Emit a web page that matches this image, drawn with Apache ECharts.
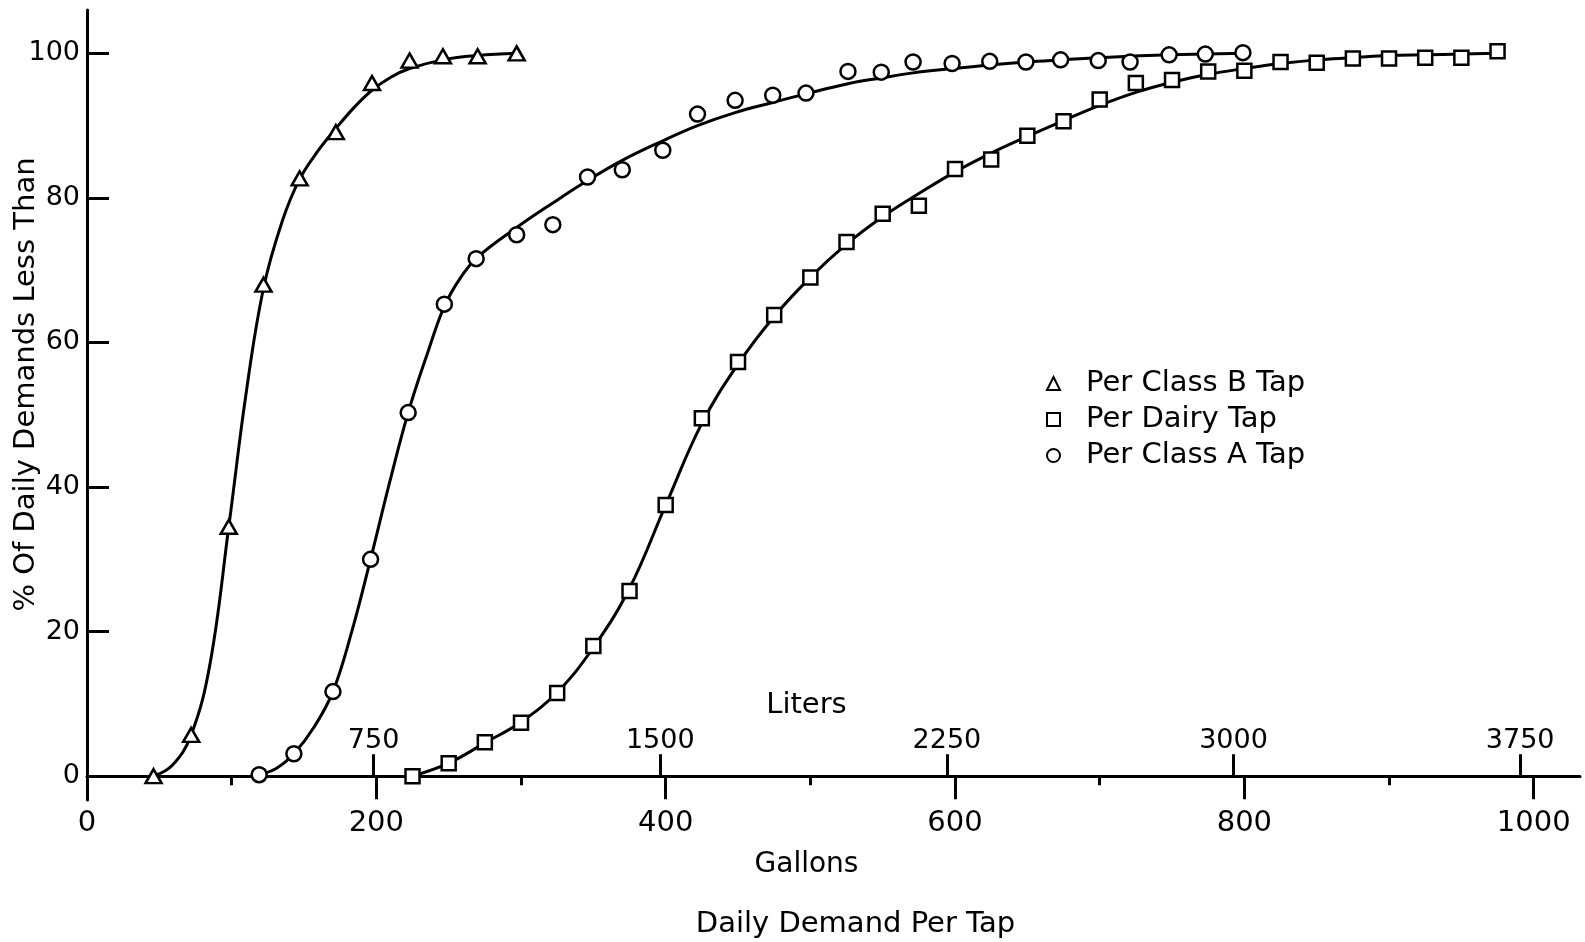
<!DOCTYPE html>
<html>
<head>
<meta charset="utf-8">
<script src="https://cdn.jsdelivr.net/npm/echarts@6/dist/echarts.min.js"></script>
<style>
html,body{margin:0;padding:0;background:#fff;}
#chart{width:1585px;height:942px;}
</style>
</head>
<body>
<div id="chart"></div>
<script>
// ---------- data ----------
const seriesNames = ['Per Class B Tap', 'Per Dairy Tap', 'Per Class A Tap'];

// Per Class B Tap (triangles)
const classBGallons = [46, 72, 98, 122, 147, 172, 197, 223, 246, 270, 297];
const classBPercent = [0, 5.7, 34.5, 68.0, 82.7, 89.1, 95.9, 99.0, 99.6, 99.6, 100];

// Per Dairy Tap (squares)
const dairyGallons = [225, 250, 275, 300, 325, 350, 375, 400, 425, 450, 475, 500, 525, 550, 575, 600,
                      625, 650, 675, 700, 725, 750, 775, 800, 825, 850, 875, 900, 925, 950, 975];
const dairyPercent = [0, 1.8, 4.7, 7.4, 11.5, 18.0, 25.6, 37.5, 49.5, 57.3, 63.8, 69.0, 73.9, 77.8, 78.9, 84.0,
                      85.3, 88.6, 90.6, 93.6, 95.9, 96.3, 97.5, 97.6, 98.8, 98.7, 99.3, 99.3, 99.4, 99.4, 100.3];

// Per Class A Tap (circles)
const classAGallons = [119, 143, 170, 196, 222, 247, 269, 297, 322, 346, 370, 398, 422, 448, 474, 497,
                       526, 549, 571, 598, 624, 649, 673, 699, 721, 748, 773, 799];
const classAPercent = [0.2, 3.1, 11.7, 30.0, 50.3, 65.3, 71.6, 74.9, 76.3, 82.9, 83.9, 86.6, 91.6, 93.5, 94.2, 94.5,
                       97.5, 97.4, 98.8, 98.6, 98.9, 98.8, 99.1, 99.0, 98.8, 99.8, 99.9, 100.1];

// hand-fitted curves
const classBCurveGallons = [46, 59, 72, 85, 98, 110, 122, 135, 147, 160, 172, 185, 197, 210, 223, 246, 270, 297];
const classBCurvePercent = [0, 1.5, 5.7, 15.5, 34.5, 53.0, 67.5, 76.8, 82.6, 86.6, 89.6, 92.6, 94.9, 96.7, 97.9, 99.1, 99.7, 100];

const dairyCurveGallons = [225, 250, 275, 300, 325, 350, 375, 400, 425, 450, 475, 500, 525, 550, 575, 600,
                           625, 650, 675, 700, 725, 750, 775, 800, 825, 850, 875, 900, 925, 950, 975];
const dairyCurvePercent = [0, 1.8, 4.6, 7.5, 11.6, 17.8, 26.0, 37.5, 48.8, 57.0, 63.6, 69.0, 73.6, 77.4, 80.6, 83.6,
                           86.2, 88.5, 90.7, 92.8, 94.6, 96.0, 97.1, 97.9, 98.6, 99.1, 99.4, 99.7, 99.8, 99.9, 100];

const classACurveGallons = [119, 131, 143, 157, 170, 183, 196, 209, 222, 236, 247, 258, 270, 297, 322, 346, 370, 398,
                            422, 448, 474, 497, 526, 549, 571, 599, 624, 649, 673, 699, 721, 748, 800];
const classACurvePercent = [0.2, 1.1, 3.1, 6.8, 11.7, 20.0, 30.0, 40.5, 50.3, 58.9, 65.0, 68.9, 71.8, 75.9, 79.3, 82.4, 85.2, 87.9,
                            90.0, 91.8, 93.2, 94.4, 95.8, 96.6, 97.3, 97.9, 98.4, 98.8, 99.1, 99.4, 99.6, 99.8, 100];

// axes / ticks
const gallonMax = 1032;
const litersPerGallon = 3.7854;
const gallonLabelValues = [0, 200, 400, 600, 800, 1000];
const gallonMajorTicks = [200, 400, 600, 800, 1000];
const gallonMinorTicks = [100, 300, 500, 700, 900];
const literTicks = [750, 1500, 2250, 3000, 3750];
const percentTicks = [0, 20, 40, 60, 80, 100];
const percentMin = -3.3;
const percentMax = 106;

// ---------- chart ----------
const FONT = 'DejaVu Sans';
const BLACK = '#000';
const zip = (xs, ys) => xs.map((x, i) => [x, ys[i]]);
const plain = v => String(v);

const chart = echarts.init(document.getElementById('chart'), null, {renderer: 'canvas'});

const markerStyle = {color: '#fff', borderColor: BLACK, borderWidth: 2.5, opacity: 1};
const curveStyle = {color: BLACK, width: 3};

const option = {
  animation: false,
  backgroundColor: '#fff',
  grid: {left: 87, right: 5, top: 10, bottom: 142, containLabel: false, outerBoundsMode: 'none'},
  legend: {
    data: seriesNames,
    orient: 'vertical',
    left: 1041,
    top: 364,
    itemWidth: 13,
    itemHeight: 13,
    itemGap: 7,
    selectedMode: false,
    textStyle: {fontFamily: FONT, fontSize: 29, color: BLACK, padding: [0, 0, 0, 21]}
  },
  xAxis: [
    {
      type: 'value', min: 0, max: gallonMax, position: 'bottom',
      axisLine: {show: true, onZero: true, onZeroAxisIndex: 0, lineStyle: {color: BLACK, width: 3}},
      axisTick: {show: true, customValues: gallonMajorTicks, length: 23, lineStyle: {color: BLACK, width: 3}},
      axisLabel: {customValues: gallonLabelValues, formatter: plain, margin: 9, verticalAlign: 'top',
                  fontFamily: FONT, fontSize: 29, color: BLACK},
      splitLine: {show: false},
      name: 'Gallons', nameLocation: 'middle', nameGap: 51, nameMoveOverlap: false,
      nameTextStyle: {fontFamily: FONT, fontSize: 28, color: BLACK, padding: [0, 54, 0, 0]}
    },
    {
      type: 'value', min: 0, max: gallonMax * litersPerGallon, position: 'bottom',
      axisLine: {show: false, onZero: true, onZeroAxisIndex: 0},
      axisTick: {show: true, inside: true, customValues: literTicks, length: 22, lineStyle: {color: BLACK, width: 3}},
      axisLabel: {inside: true, customValues: literTicks, formatter: plain, margin: 46, verticalAlign: 'bottom',
                  fontFamily: FONT, fontSize: 27, color: BLACK},
      splitLine: {show: false},
      name: 'Liters', nameLocation: 'middle', nameGap: -109, nameMoveOverlap: false,
      nameTextStyle: {fontFamily: FONT, fontSize: 29, color: BLACK, padding: [0, 54, 0, 0]}
    },
    {
      type: 'value', min: 0, max: gallonMax, position: 'bottom',
      axisLine: {show: false, onZero: true, onZeroAxisIndex: 0},
      axisTick: {show: true, customValues: gallonMinorTicks, length: 9, lineStyle: {color: BLACK, width: 3}},
      axisLabel: {show: false},
      splitLine: {show: false},
      name: 'Daily Demand Per Tap', nameLocation: 'middle', nameGap: 110, nameMoveOverlap: false,
      nameTextStyle: {fontFamily: FONT, fontSize: 29, color: BLACK, padding: [0, 0, 0, 44]}
    }
  ],
  yAxis: {
    type: 'value', min: percentMin, max: percentMax, position: 'left',
    axisLine: {show: true, onZero: false, lineStyle: {color: BLACK, width: 3}},
    axisTick: {show: true, inside: true, customValues: percentTicks, length: 22, lineStyle: {color: BLACK, width: 3}},
    axisLabel: {customValues: percentTicks, formatter: plain, margin: 7, fontFamily: FONT, fontSize: 27, color: BLACK},
    splitLine: {show: false},
    name: '% Of Daily Demands Less Than', nameLocation: 'middle', nameRotate: 90, nameGap: 46, nameMoveOverlap: false,
    nameTextStyle: {fontFamily: FONT, fontSize: 29, color: BLACK, padding: [0, 0, 0, 41]}
  },
  series: [
    {type: 'line', name: 'curveB', data: zip(classBCurveGallons, classBCurvePercent), smooth: 0.4,
     showSymbol: false, symbol: 'none', lineStyle: curveStyle, z: 2, silent: true},
    {type: 'line', name: 'curveDairy', data: zip(dairyCurveGallons, dairyCurvePercent), smooth: 0.4,
     showSymbol: false, symbol: 'none', lineStyle: curveStyle, z: 2, silent: true},
    {type: 'line', name: 'curveA', data: zip(classACurveGallons, classACurvePercent), smooth: 0.4,
     showSymbol: false, symbol: 'none', lineStyle: curveStyle, z: 2, silent: true},
    {type: 'scatter', name: seriesNames[0], data: zip(classBGallons, classBPercent),
     symbol: 'triangle', symbolSize: [16, 14], itemStyle: markerStyle, z: 3},
    {type: 'scatter', name: seriesNames[1], data: zip(dairyGallons, dairyPercent),
     symbol: 'rect', symbolSize: 14, itemStyle: markerStyle, z: 3},
    {type: 'scatter', name: seriesNames[2], data: zip(classAGallons, classAPercent),
     symbol: 'circle', symbolSize: 15, itemStyle: markerStyle, z: 3}
  ]
};
chart.setOption(option);
</script>
</body>
</html>
